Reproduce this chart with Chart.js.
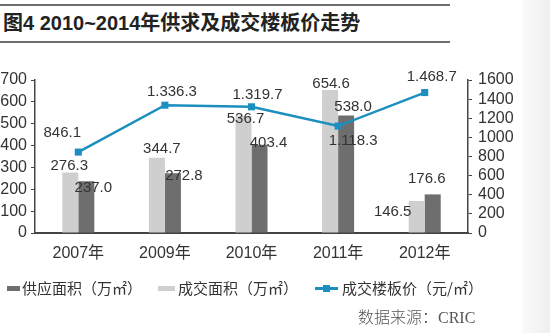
<!DOCTYPE html>
<html>
<head>
<meta charset="utf-8">
<script src="https://cdn.jsdelivr.net/npm/chart.js@4"></script>
<style>
  html, body { margin: 0; padding: 0; background: #fff; }
  #wrap { position: relative; width: 550px; height: 333px; overflow: hidden; background: #fff;
          font-family: "Liberation Sans", "Noto Sans CJK SC", sans-serif; }
  #strip { position: absolute; left: 522px; top: 0; width: 28px; height: 333px;
           background: linear-gradient(to right, #fafafa, #efefef); }
  #title { position: absolute; left: 0; top: 4px; width: 447px; height: 35px;
           border-top: 2px solid #6e6e6e; border-bottom: 2px solid #6e6e6e;
           font-weight: bold; font-size: 20px; line-height: 35px; color: #222; padding-left: 3px; box-sizing: content-box; }
  #chartbox { position: absolute; left: 0; top: 0; width: 550px; height: 333px; }
  .lg { position: absolute; top: 279px; font-size: 15px; color: #333; line-height: 18px; white-space: nowrap;
        font-family: "Noto Sans CJK SC", sans-serif; }
  .sw { position: absolute; }
  #source { position: absolute; left: 358px; top: 304px; font-size: 16px; color: #555;
            font-family: "Noto Sans CJK SC", "Liberation Serif", serif; font-weight: 300; }
  #source span { font-family: "Liberation Serif", serif; }
</style>
</head>
<body>
<div id="wrap">
  <div id="strip"></div>
  <div id="title">图4 2010~2014年供求及成交楼板价走势</div>
  <div id="chartbox"><canvas id="c" width="550" height="333"></canvas></div>
  <div class="sw" style="left:7px;top:286px;width:13px;height:5px;background:#6e6e6e;"></div>
  <div class="lg" style="left:22px;">供应面积（万㎡）</div>
  <div class="sw" style="left:158px;top:286px;width:17px;height:5px;background:#cfcfcf;"></div>
  <div class="lg" style="left:178px;">成交面积（万㎡）</div>
  <div class="sw" style="left:315px;top:287px;width:23px;height:2.5px;background:#1c8fc0;"></div>
  <div class="sw" style="left:323px;top:285px;width:7px;height:7px;background:#1c8fc0;"></div>
  <div class="lg" style="left:342px;">成交楼板价（元/㎡）</div>
  <div id="source">数据来源：<span>CRIC</span></div>
</div>
<script>
// ---- data ----
const categories = ["2007年", "2009年", "2010年", "2011年", "2012年"];
const dealArea = [276.3, 344.7, 536.7, 654.6, 146.5];      // 成交面积（万㎡）
const supplyArea = [237.0, 272.8, 403.4, 538.0, 176.6];    // 供应面积（万㎡）
const floorPrice = [846.1, 1336.3, 1319.7, 1118.3, 1468.7]; // 成交楼板价（元/㎡）
const priceLabels = ["846.1", "1.336.3", "1.319.7", "1.118.3", "1.468.7"];
const leftTicks = [0, 100, 200, 300, 400, 500, 600, 700];
const rightTicks = [0, 200, 400, 600, 800, 1000, 1200, 1400, 1600];

// ---- label placement (layout only) ----
const labelOffsets = [
  [[-1, -7], [5, -9], [2, 3], [1, -6], [-24, 11]],     // deal area
  [[7, 7], [11, 2], [9, -2], [7, -9], [-6, -16]],      // supply area
  [[-16, -19], [7, -13], [6, -12], [15, 15], [7, -16]] // price
];

const labelPlugin = {
  id: 'valueLabels',
  afterDatasetsDraw(chart) {
    const ctx = chart.ctx;
    ctx.save();
    ctx.font = '15px "Liberation Sans", sans-serif';
    ctx.fillStyle = '#333';
    ctx.textAlign = 'center';
    ctx.textBaseline = 'middle';
    chart.data.datasets.forEach((ds, i) => {
      const meta = chart.getDatasetMeta(i);
      meta.data.forEach((el, j) => {
        const txt = ds.labelTexts ? ds.labelTexts[j] : ds.data[j].toFixed(1);
        const off = labelOffsets[i][j];
        ctx.fillText(txt, el.x + off[0], el.y + off[1]);
      });
    });
    ctx.restore();
  }
};

const tickFont = { family: '"Liberation Sans", "Noto Sans CJK SC", sans-serif', size: 16 };
const plainNum = v => String(v);

new Chart(document.getElementById('c'), {
  type: 'bar',
  data: {
    labels: categories,
    datasets: [
      { label: '成交面积（万㎡）', data: dealArea, backgroundColor: '#cfcfcf', yAxisID: 'y',
        barPercentage: 1.0, categoryPercentage: 0.37 },
      { label: '供应面积（万㎡）', data: supplyArea, backgroundColor: '#6e6e6e', yAxisID: 'y',
        barPercentage: 1.0, categoryPercentage: 0.37 },
      { type: 'line', label: '成交楼板价（元/㎡）', data: floorPrice, labelTexts: priceLabels,
        yAxisID: 'y1', borderColor: '#1c8fc0', backgroundColor: '#1c8fc0', borderWidth: 2.5,
        pointStyle: 'rect', pointRadius: 5, pointBorderWidth: 0, tension: 0, order: -1 }
    ]
  },
  options: {
    responsive: false,
    animation: false,
    events: [],
    layout: { padding: { top: 80, left: 0, right: 0, bottom: 0 } },
    plugins: { legend: { display: false }, tooltip: { enabled: false } },
    scales: {
      x: {
        grid: { display: false, drawTicks: false },
        border: { display: true, color: '#444', width: 2 },
        ticks: { font: tickFont, color: '#333', padding: 11, maxRotation: 0 },
        afterFit(s) { s.height = 100; }
      },
      y: {
        position: 'left', min: 0, max: 700,
        afterBuildTicks(s) { s.ticks = leftTicks.map(v => ({ value: v })); },
        grid: { drawOnChartArea: false, drawTicks: true, tickLength: 4, color: '#444' },
        border: { display: true, color: '#444', width: 1.5 },
        ticks: { font: tickFont, color: '#333', padding: 4, autoSkip: false, callback: plainNum },
        afterFit(s) { s.width = 35; }
      },
      y1: {
        position: 'right', min: 0, max: 1600,
        afterBuildTicks(s) { s.ticks = rightTicks.map(v => ({ value: v })); },
        grid: { drawOnChartArea: false, drawTicks: true, tickLength: 4, color: '#444' },
        border: { display: true, color: '#444', width: 1.5 },
        ticks: { font: tickFont, color: '#333', padding: 6, autoSkip: false, callback: plainNum },
        afterFit(s) { s.width = 82; }
      }
    }
  },
  plugins: [labelPlugin]
});
</script>
</body>
</html>
